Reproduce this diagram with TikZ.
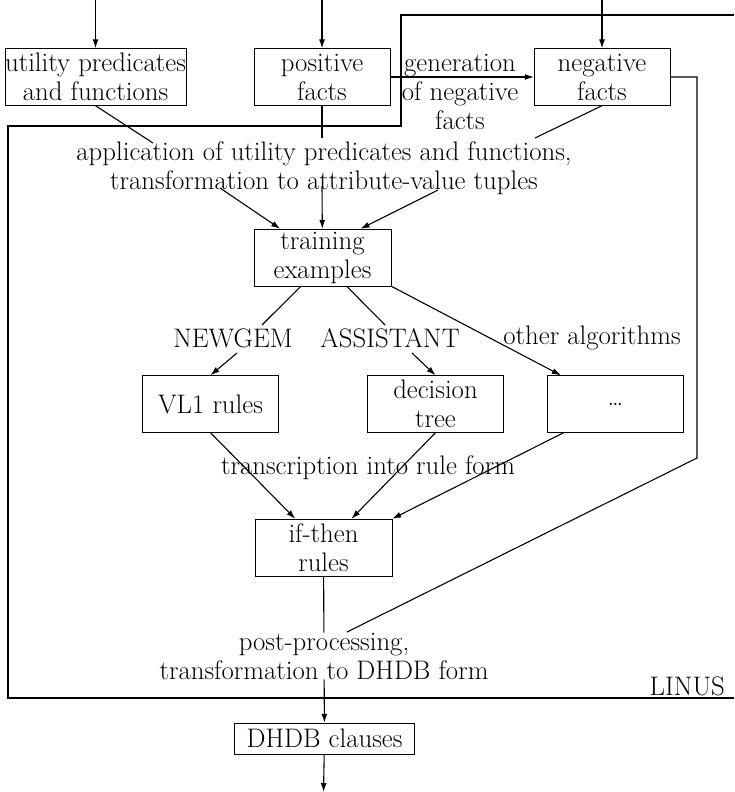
\documentclass[tikz,border=0pt]{standalone}
\usepackage{tikz}
\usetikzlibrary{arrows.meta}
\newcommand{\linfont}{\fontsize{26.8}{29}\selectfont}
\tikzset{
  lnbox/.style={draw, rectangle, inner sep=0pt, minimum width=136pt, minimum height=57pt, align=center, font=\linfont},
  lnlabel/.style={inner sep=0pt, align=center, font=\linfont},
  lnarrow/.style={-{Latex[length=9pt,width=6pt]}, line width=1.1pt},
  lnline/.style={line width=1.1pt},
}

\begin{document}
\begin{tikzpicture}[x=1pt,y=-1pt]
  \useasboundingbox (0,0) rectangle (734,792);

  % inputs
  \node[lnbox] (util) at (95.5,77) {utility predicates\\and functions};
  \node[lnbox] (pos) at (322,77) {positive\\facts};
  \node[lnbox] (neg) at (602,77) {negative\\facts};
  \node[lnlabel] (gen) at (460,92) {generation\\of negative\\facts};

  % LINUS
  \node[lnlabel] (appl) at (324,168) {application of utility predicates and functions,\\transformation to attribute-value tuples};
  \node[lnbox, minimum width=137pt] (train) at (322.5,257.5) {training\\examples};
  \node[lnlabel] (newgem) at (233,338) {NEWGEM};
  \node[lnlabel] (assist) at (390,338) {ASSISTANT};
  \node[lnlabel] (other) at (592,338) {other algorithms};
  \node[lnbox] (vl1) at (210.5,404) {VL1 rules};
  \node[lnbox] (dtree) at (435.5,404) {decision\\tree};
  \node[lnbox] (dots) at (615.5,404) {\dots};
  \node[lnlabel] (transc) at (368,468) {transcription into rule form};
  \node[lnbox, minimum width=137pt] (ifthen) at (323.5,547.5) {if-then\\rules};
  \node[lnlabel] (post) at (324,656) {post-processing,\\transformation to DHDB form};
  \node[lnlabel, anchor=south east] (linus) at (725,696) {LINUS};

  % output
  \node[lnbox, minimum width=180pt, minimum height=31pt] (dhdb) at (324.5,738.5) {DHDB clauses};

  \coordinate (top-util) at (95.5,0);
  \coordinate (top-pos) at (322,0);
  \coordinate (top-neg) at (602,0);
  \coordinate (appl-in1) at (153,143);
  \coordinate (appl-in2) at (322,138);
  \coordinate (appl-in3) at (535,138);
  \coordinate (appl-out1) at (220,188);
  \coordinate (appl-out2) at (322,186);
  \coordinate (appl-out3) at (438,190);
  \coordinate (nw-in) at (262,325);
  \coordinate (nw-out) at (237,353);
  \coordinate (as-in) at (385,325);
  \coordinate (as-out) at (412,353);
  \coordinate (neg-turn) at (697,458);
  \coordinate (post-in) at (347,632);
  \coordinate (bottom-out) at (323.5,792);

  \draw[lnline] (734,15) -- (401,15) -- (401,126) -- (8,126) -- (8,698) -- (734,698);

  \draw[lnarrow] (top-util) -- (util);
  \draw[lnarrow] (top-pos) -- (pos);
  \draw[lnarrow] (top-neg) -- (neg);
  \draw[lnarrow] (pos) -- (neg);

  \draw[lnline] (util.south) -- (appl-in1);
  \draw[lnline] (pos.south) -- (appl-in2);
  \draw[lnline] (neg.south) -- (appl-in3);
  \draw[lnarrow] (appl-out1) -- (train);
  \draw[lnarrow] (appl-out2) -- (train);
  \draw[lnarrow] (appl-out3) -- (train.37);

  \draw[lnline] (train.233) -- (nw-in);
  \draw[lnline] (train.310) -- (as-in);
  \draw[lnarrow] (train.south east) -- (dots);
  \draw[lnarrow] (nw-out) -- (vl1.north);
  \draw[lnarrow] (as-out) -- (dtree.north);

  \draw[lnarrow] (vl1.south) -- (ifthen);
  \draw[lnarrow] (dtree.south) -- (ifthen);
  \draw[lnarrow] (dots.209) -- (ifthen.north east);

  \draw[lnline] (ifthen) -- (post);
  \draw[lnline] (neg.east) -| (neg-turn) -- (post-in);
  \draw[lnarrow] (post) -- (dhdb);
  \draw[lnarrow] (dhdb) -- (bottom-out);
\end{tikzpicture}
\end{document}
